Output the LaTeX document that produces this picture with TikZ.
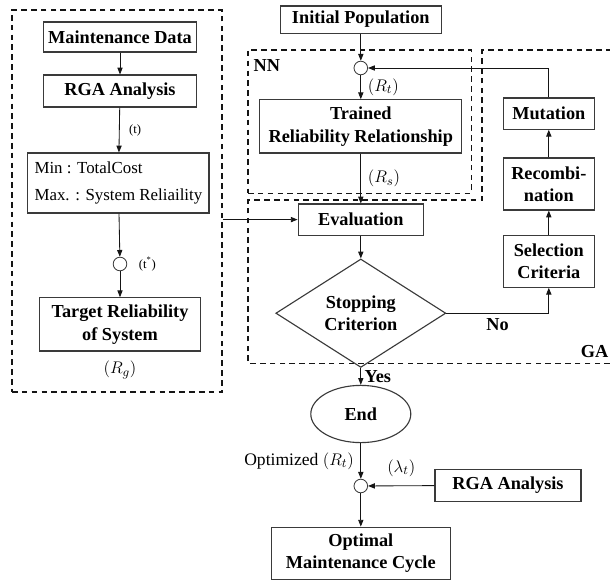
\documentclass[tikz,border=0pt]{standalone}
\usepackage{fontspec}
\setmainfont{Liberation Serif}
\usepackage{xcolor}
\usepackage{tikz}
\usetikzlibrary{arrows.meta,positioning,shapes.geometric,calc}
\definecolor{linegray}{HTML}{3A3A3A}
\definecolor{inkblack}{HTML}{151515}
\newcommand{\boxfont}{\fontsize{13}{16}\selectfont\bfseries}
\tikzset{
  box/.style={draw=linegray, line width=0.8pt, align=center, fill=white, inner sep=2pt, font=\boxfont},
  plainbox/.style={draw=linegray, line width=0.8pt, align=left, fill=white, inner sep=3pt},
  junction/.style={draw=linegray, line width=0.6pt, circle, minimum size=3.4mm, inner sep=0pt, fill=white},
  decision/.style={diamond, draw=linegray, line width=0.8pt, align=center, inner sep=0pt, font=\boxfont},
  terminal/.style={ellipse, draw=linegray, line width=0.8pt, align=center, inner sep=0pt, font=\boxfont},
  group/.style={draw=inkblack, line width=0.8pt, dash pattern=on 4pt off 3pt},
  arrow/.style={-{Triangle[length=1.7mm, width=1.3mm]}, line width=0.6pt, draw=inkblack},
  tag/.style={inner sep=1pt, font=\fontsize{9}{10}\selectfont},
  flowlabel/.style={inner sep=1pt, font=\boxfont}
}

\begin{document}
\begin{tikzpicture}[font=\fontsize{12.5}{16}\selectfont]
  \useasboundingbox (0,0) rectangle (15.25,-14.5);

  \node[group, minimum width=5.25cm, minimum height=9.55cm] (leftgrp) at (2.925,-5.025) {};
  \node[group, minimum width=5.58cm, minimum height=3.58cm] (nnbox) at (8.99,-3.04) {};
  \draw[group] (15.25,-9.08) -- (6.2,-9.08) -- (6.2,-5.0) -- (12.05,-5.0) -- (12.05,-1.25) -- (15.25,-1.25);
  \node[flowlabel, anchor=west] (nnlabel) at (6.3,-1.63) {NN};
  \node[flowlabel, anchor=east] (galabel) at (15.25,-8.8) {GA};

  \node[box, minimum width=3.83cm, minimum height=0.75cm] (mdata) at (3.0,-0.925) {Maintenance Data};
  \node[box, minimum width=3.83cm, minimum height=0.8cm] (rgaup) at (3.0,-2.275) {RGA Analysis};
  \node[plainbox, minimum width=4.53cm, minimum height=1.5cm, font=\fontsize{12}{19.5}\selectfont] (objective) at (2.96,-4.575) {Min : TotalCost\\Max. : System Reliaility};
  \node[junction] (tstar) at (3.0,-6.6) {};
  \node[tag, right=2.5mm of tstar] (tstarlabel) {(t\textsuperscript{*})};
  \node[box, minimum width=4.03cm, minimum height=1.33cm] (target) at (3.0,-8.11) {Target Reliability\\of System};
  \node[below=1.2mm of target] (rglabel) {$\left(R_g\right)$};

  \node[box, minimum width=4.03cm, minimum height=0.68cm] (initpop) at (9.02,-0.49) {Initial Population};
  \node[junction] (nnjoin) at (9.02,-1.7) {};
  \node[box, minimum width=5.05cm, minimum height=1.33cm] (trained) at (9.02,-3.16) {Trained\\Reliability Relationship};
  \node[box, minimum width=3.13cm, minimum height=0.78cm] (eval) at (9.02,-5.49) {Evaluation};
  \node[decision, minimum width=4.25cm, minimum height=2.3cm] (stop) at (9.02,-7.83) {Stopping\\Criterion};
  \node[box, minimum width=2.28cm, minimum height=0.78cm] (mut) at (13.72,-2.84) {Mutation};
  \node[box, minimum width=2.28cm, minimum height=1.3cm] (recomb) at (13.72,-4.6) {Recombi-\\nation};
  \node[box, minimum width=2.28cm, minimum height=1.3cm] (sel) at (13.72,-6.53) {Selection\\Criteria};

  \node[terminal, minimum width=2.5cm, minimum height=1.43cm] (endnode) at (9.02,-10.35) {End};
  \node[junction] (outjoin) at (9.02,-12.15) {};
  \node[box, minimum width=3.65cm, minimum height=0.8cm] (rgalow) at (12.7,-12.13) {RGA Analysis};
  \node[box, minimum width=4.48cm, minimum height=1.3cm] (optimal) at (9.02,-13.83) {Optimal\\Maintenance Cycle};

  \draw[arrow] (mdata) -- (rgaup);
  \draw[arrow] (rgaup) -- node[tag, right=2mm] {(t)} (objective);
  \draw[arrow] (objective) -- (tstar);
  \draw[arrow] (tstar) -- (target);
  \draw[arrow] (leftgrp.east |- eval) -- (eval);
  \draw[arrow] (initpop) -- (nnjoin);
  \draw[arrow] (nnjoin) -- node[right=0.5mm] {$\left(R_t\right)$} (trained);
  \draw[arrow] (trained) -- node[right=0.5mm] {$\left(R_s\right)$} (eval);
  \draw[arrow] (eval) -- (stop);
  \draw[arrow] (stop.east) -| node[flowlabel, pos=0.25, below=1mm] {No} (sel.south);
  \draw[arrow] (sel) -- (recomb);
  \draw[arrow] (recomb) -- (mut);
  \draw[arrow] (mut.north) |- (nnjoin.east);
  \draw[arrow] (stop.south) -- node[flowlabel, right=0.5mm] {Yes} (endnode);
  \draw[arrow] (endnode) -- node[left=0.5mm] {Optimized $\left(R_t\right)$} (outjoin);
  \draw[arrow] (rgalow) -- node[above=1mm] {$\left(\lambda_t\right)$} (outjoin);
  \draw[arrow] (outjoin) -- (optimal);
\end{tikzpicture}
\end{document}
